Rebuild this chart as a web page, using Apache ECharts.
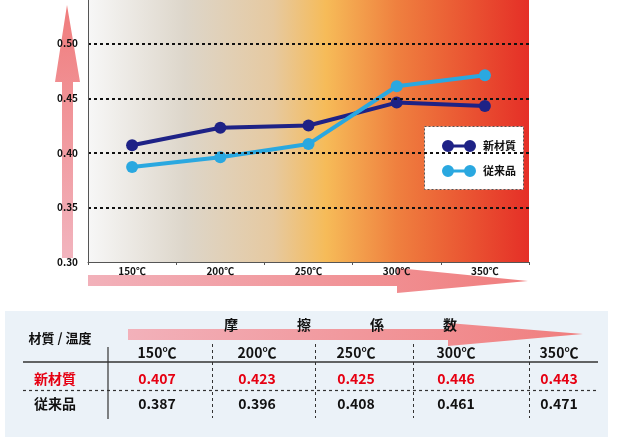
<!DOCTYPE html>
<html><head><meta charset="utf-8">
<script src="https://cdn.jsdelivr.net/npm/echarts@6/dist/echarts.min.js"></script>
<style>html,body{margin:0;padding:0;background:#fff}#c{width:639px;height:438px}</style>
</head><body><div id="c"></div>
<script>
var categories = ['150℃', '200℃', '250℃', '300℃', '350℃'];
var seriesNames = ['新材質', '従来品'];
var newValues = [0.407, 0.423, 0.425, 0.446, 0.443];
var oldValues = [0.387, 0.396, 0.408, 0.461, 0.471];
var tableHeader = '材質 / 温度';
var arrowWords = ['摩', '擦', '係', '数'];

var FONT = '"Noto Sans CJK JP", "Noto Sans", sans-serif';
var chart = echarts.init(document.getElementById('c'), null, {renderer: 'canvas'});

function grad(x2, y2, stops) {
  return {type: 'linear', x: 0, y: 0, x2: x2, y2: y2, colorStops: stops, global: false};
}
function txt(t, x, y, size, color, align) {
  return {type: 'text', x: x, y: y, z: 20, style: {text: t, fill: color || '#111', fontSize: size, fontWeight: 'bold', fontFamily: FONT, align: align || 'center', verticalAlign: 'middle'}};
}
function line(x1, y1, x2, y2, dashed, w) {
  return {type: 'line', z: 15, shape: {x1: x1, y1: y1, x2: x2, y2: y2}, style: {stroke: '#333', lineWidth: w || 1, lineDash: dashed ? [3, 3] : null}};
}

var colX = [157, 257, 356, 456, 559];
var g = [];
// vertical arrow
g.push({type: 'polygon', z: 1, shape: {points: [[62, 258], [62, 82], [55, 82], [67, 5], [80, 82], [73, 82], [73, 258]]},
  style: {fill: grad(0, 1, [{offset: 0, color: '#f07c7c'}, {offset: 1, color: '#f2b4be'}])}});
// horizontal arrow under chart
g.push({type: 'polygon', z: 1, shape: {points: [[88, 275], [397, 275], [397, 268], [528, 281], [397, 293], [397, 286], [88, 286]]},
  style: {fill: grad(1, 0, [{offset: 0, color: '#f2b1ba'}, {offset: 1, color: '#f07e7e'}])}});
// legend box
g.push({type: 'rect', z: 3, shape: {x: 424.5, y: 126.5, width: 99, height: 63}, style: {fill: '#fff', stroke: '#555', lineWidth: 1, lineDash: [2, 2]}});
// table panel
g.push({type: 'rect', z: 5, shape: {x: 5, y: 311, width: 603, height: 126}, style: {fill: '#ebf2f8'}});
// table arrow
g.push({type: 'polygon', z: 8, shape: {points: [[128, 329], [448, 329], [448, 323], [583, 334], [448, 346], [448, 340], [128, 340]]},
  style: {fill: grad(1, 0, [{offset: 0, color: '#f2b1ba'}, {offset: 1, color: '#f07e7e'}])}});
var wordX = [231, 304, 377, 450];
arrowWords.forEach(function (w, i) { g.push(txt(w, wordX[i], 325, 14)); });
g.push(txt(tableHeader, 60, 338, 13));
categories.forEach(function (c, i) { g.push(txt(c, colX[i], 353, 14)); });
g.push(txt(seriesNames[0], 55, 379, 14, '#e60012'));
g.push(txt(seriesNames[1], 55, 404, 14));
newValues.forEach(function (v, i) { g.push(txt(v.toFixed(3), colX[i], 379, 14, '#e60012')); });
oldValues.forEach(function (v, i) { g.push(txt(v.toFixed(3), colX[i], 404, 14)); });
g.push(line(108, 347, 108, 419, false, 1.2));
[212, 315, 413, 529].forEach(function (x) { g.push(line(x + 0.5, 344, x + 0.5, 418, true, 1)); });
g.push(line(23, 362, 598, 362, false, 1.5));
g.push(line(23, 390.5, 598, 390.5, true, 1.2));

var iconPath = 'path://M0,6A6,6 0 1,1 12,6A6,6 0 1,1 0,6Z M22,6A6,6 0 1,1 34,6A6,6 0 1,1 22,6Z M6,4.5L28,4.5L28,7.5L6,7.5Z';

chart.setOption({
  animation: false,
  grid: {left: 88, right: 110, top: 0, bottom: 176, show: true, borderWidth: 0, z: 0,
    backgroundColor: grad(1, 0, [
      {offset: 0, color: '#f7f7f7'}, {offset: 0.22, color: '#ddd6ca'}, {offset: 0.42, color: '#e6c9a0'},
      {offset: 0.54, color: '#f6bb58'}, {offset: 0.7, color: '#ef803f'}, {offset: 1, color: '#e52f27'}])},
  xAxis: {type: 'category', data: categories, boundaryGap: true, z: 10,
    axisLine: {lineStyle: {color: '#555', width: 1}},
    axisTick: {show: true, length: 3, lineStyle: {color: '#555'}},
    axisLabel: {color: '#111', fontSize: 10, fontWeight: 'bold', fontFamily: FONT, margin: 4}},
  yAxis: {type: 'value', min: 0.3, max: 0.54, interval: 0.05, z: 10,
    axisLine: {show: true, lineStyle: {color: '#555', width: 1}},
    axisTick: {show: false},
    axisLabel: {color: '#111', fontSize: 10, fontWeight: 'bold', fontFamily: FONT, margin: 10, showMaxLabel: false,
      formatter: function (v) { return v.toFixed(2); }},
    splitLine: {show: true, showMinLine: false, showMaxLine: false, lineStyle: {color: '#111', width: 2, type: [3, 3]}}},
  legend: {orient: 'vertical', left: 437, top: 135, itemWidth: 34, itemHeight: 12, itemGap: 13, z: 6,
    icon: iconPath, data: seriesNames,
    textStyle: {color: '#111', fontSize: 11, fontWeight: 'bold', fontFamily: FONT, padding: [0, 0, 0, 2]}},
  graphic: g,
  series: [
    {name: seriesNames[0], type: 'line', data: newValues, symbol: 'circle', symbolSize: 12, z: 4,
      itemStyle: {color: '#1e2286'}, lineStyle: {color: '#1e2286', width: 4}},
    {name: seriesNames[1], type: 'line', data: oldValues, symbol: 'circle', symbolSize: 12, z: 4,
      itemStyle: {color: '#2aa8e0'}, lineStyle: {color: '#2aa8e0', width: 4}}
  ]
});
</script></body></html>
